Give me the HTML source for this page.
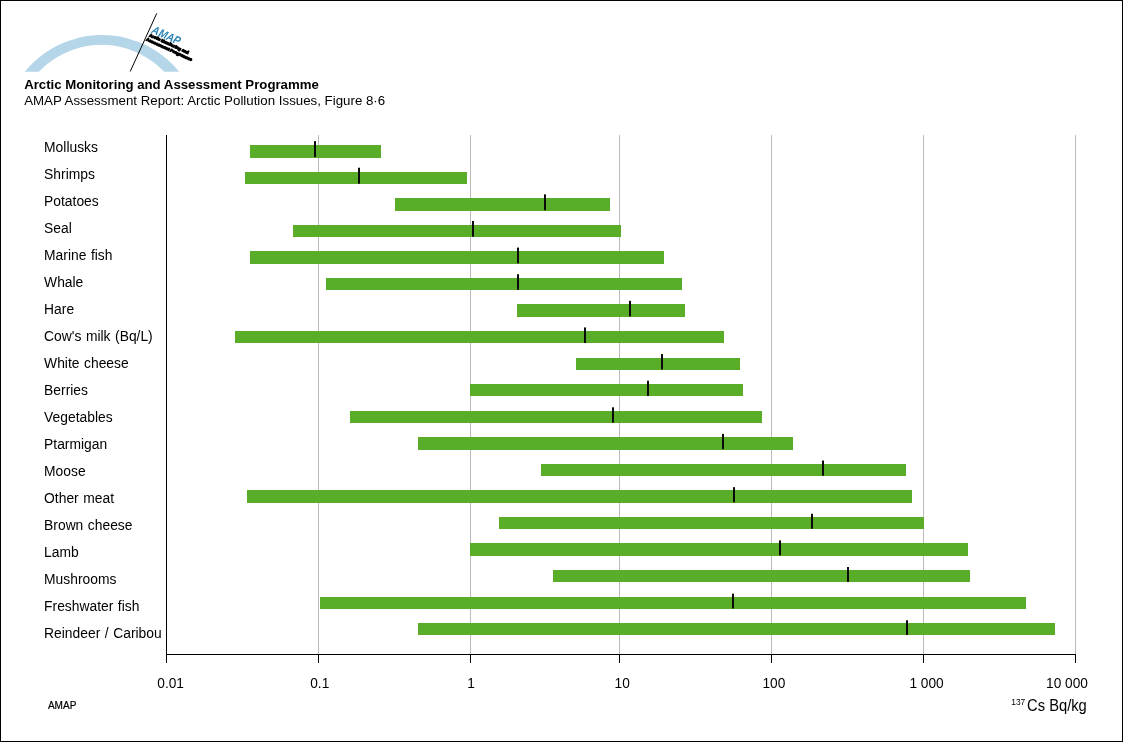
<!DOCTYPE html>
<html lang="en"><head><meta charset="utf-8"><title>AMAP Figure 8-6</title>
<style>
html,body{margin:0;padding:0;background:#fff;}
body{width:1123px;height:742px;overflow:hidden;position:relative;}
svg{display:block;position:absolute;left:0;top:0;}
text{font-family:"Liberation Sans",Arial,Helvetica,sans-serif;fill:#000;}
.lab{font-size:15.5px;}
.bar{fill:#5aad29;}
.med{fill:#0a0a0a;}
.grid{fill:#bbbbbb;}
.ax{fill:#000;}
</style></head><body>
<svg width="1123" height="742" viewBox="0 0 1123 742">
<rect x="0" y="0" width="1123" height="742" fill="#fff"/>
<rect x="0.5" y="0.5" width="1122" height="741" fill="none" stroke="#000" stroke-width="1" shape-rendering="crispEdges"/>
<g id="logo">
<defs><clipPath id="arcclip"><rect x="0" y="0" width="220" height="71.7"/></clipPath></defs>
<path clip-path="url(#arcclip)" fill="#b5d5e9" fill-rule="evenodd" d="M102 35 a99.3 99.3 0 1 0 0.01 0 Z M101.5 44.8 a86.5 86.5 0 1 0 0.01 0 Z"/>
<line x1="156.8" y1="13.3" x2="130.2" y2="71.5" stroke="#000" stroke-width="1"/>
<g transform="translate(150.5,32.6) rotate(24.6)">
<text x="0.3" y="-0.2" style="font-size:11.5px;font-weight:bold;font-style:italic;fill:#2b86b8;" textLength="30.5" lengthAdjust="spacingAndGlyphs">AMAP</text>
<text x="0.2" y="3.8" style="font-size:4px;font-weight:bold;fill:#000;stroke:#000;stroke-width:1.05;" textLength="43" lengthAdjust="spacingAndGlyphs">Arctic Monitoring and</text>
<text x="-1.0" y="8.9" style="font-size:4px;font-weight:bold;fill:#000;stroke:#000;stroke-width:1.05;" textLength="50" lengthAdjust="spacingAndGlyphs">Assessment Programme</text>
</g>
</g>
<text x="24.2" y="88.7" style="font-size:12.1px;font-weight:bold;fill:#000;" textLength="294.6" lengthAdjust="spacingAndGlyphs">Arctic Monitoring and Assessment Programme</text>
<text x="24.2" y="104.5" style="font-size:12.3px;" textLength="361" lengthAdjust="spacingAndGlyphs">AMAP Assessment Report: Arctic Pollution Issues, Figure 8·6</text>
<g shape-rendering="crispEdges">
<rect class="grid" x="318" y="135" width="1" height="519"/>
<rect class="grid" x="470" y="135" width="1" height="519"/>
<rect class="grid" x="619" y="135" width="1" height="519"/>
<rect class="grid" x="771" y="135" width="1" height="519"/>
<rect class="grid" x="923" y="135" width="1" height="519"/>
<rect class="grid" x="1075" y="135" width="1" height="519"/>
<rect class="bar" x="250" y="145" width="131" height="13"/>
<rect class="bar" x="245" y="172" width="222" height="12"/>
<rect class="bar" x="395" y="198" width="215" height="13"/>
<rect class="bar" x="293" y="225" width="328" height="12"/>
<rect class="bar" x="250" y="251" width="414" height="13"/>
<rect class="bar" x="326" y="278" width="356" height="12"/>
<rect class="bar" x="517" y="304" width="168" height="13"/>
<rect class="bar" x="235" y="331" width="489" height="12"/>
<rect class="bar" x="576" y="358" width="164" height="12"/>
<rect class="bar" x="470" y="384" width="273" height="12"/>
<rect class="bar" x="350" y="411" width="412" height="12"/>
<rect class="bar" x="418" y="437" width="375" height="13"/>
<rect class="bar" x="541" y="464" width="365" height="12"/>
<rect class="bar" x="247" y="490" width="665" height="13"/>
<rect class="bar" x="499" y="517" width="425" height="12"/>
<rect class="bar" x="470" y="543" width="498" height="13"/>
<rect class="bar" x="553" y="570" width="417" height="12"/>
<rect class="bar" x="320" y="597" width="706" height="12"/>
<rect class="bar" x="418" y="623" width="637" height="12"/>
<rect class="med" x="314" y="141.10" width="2" height="16.00" shape-rendering="geometricPrecision"/>
<rect class="med" x="358" y="167.72" width="2" height="15.93" shape-rendering="geometricPrecision"/>
<rect class="med" x="544" y="194.34" width="2" height="15.86" shape-rendering="geometricPrecision"/>
<rect class="med" x="472" y="220.96" width="2" height="15.79" shape-rendering="geometricPrecision"/>
<rect class="med" x="517" y="247.58" width="2" height="15.72" shape-rendering="geometricPrecision"/>
<rect class="med" x="517" y="274.20" width="2" height="15.65" shape-rendering="geometricPrecision"/>
<rect class="med" x="629" y="300.82" width="2" height="15.58" shape-rendering="geometricPrecision"/>
<rect class="med" x="584" y="327.44" width="2" height="15.51" shape-rendering="geometricPrecision"/>
<rect class="med" x="661" y="354.06" width="2" height="15.44" shape-rendering="geometricPrecision"/>
<rect class="med" x="647" y="380.68" width="2" height="15.37" shape-rendering="geometricPrecision"/>
<rect class="med" x="612" y="407.30" width="2" height="15.30" shape-rendering="geometricPrecision"/>
<rect class="med" x="722" y="433.92" width="2" height="15.23" shape-rendering="geometricPrecision"/>
<rect class="med" x="822" y="460.54" width="2" height="15.16" shape-rendering="geometricPrecision"/>
<rect class="med" x="733" y="487.16" width="2" height="15.09" shape-rendering="geometricPrecision"/>
<rect class="med" x="811" y="513.78" width="2" height="15.02" shape-rendering="geometricPrecision"/>
<rect class="med" x="779" y="540.40" width="2" height="14.95" shape-rendering="geometricPrecision"/>
<rect class="med" x="847" y="567.02" width="2" height="14.88" shape-rendering="geometricPrecision"/>
<rect class="med" x="732" y="593.64" width="2" height="14.81" shape-rendering="geometricPrecision"/>
<rect class="med" x="906" y="620.26" width="2" height="14.74" shape-rendering="geometricPrecision"/>
<rect class="ax" x="166" y="135" width="1" height="528"/>
<rect class="ax" x="166" y="654" width="910" height="1"/>
<rect class="ax" x="318" y="654" width="1" height="9"/>
<rect class="ax" x="470" y="654" width="1" height="9"/>
<rect class="ax" x="619" y="654" width="1" height="9"/>
<rect class="ax" x="771" y="654" width="1" height="9"/>
<rect class="ax" x="923" y="654" width="1" height="9"/>
<rect class="ax" x="1075" y="654" width="1" height="9"/>
</g>
<text class="lab" style="word-spacing:0.8px" transform="translate(44.1,151.50) scale(0.893,1)">Mollusks</text>
<text class="lab" style="word-spacing:0.8px" transform="translate(44.1,178.55) scale(0.893,1)">Shrimps</text>
<text class="lab" style="word-spacing:0.8px" transform="translate(44.1,205.60) scale(0.893,1)">Potatoes</text>
<text class="lab" style="word-spacing:0.8px" transform="translate(44.1,232.65) scale(0.893,1)">Seal</text>
<text class="lab" style="word-spacing:0.8px" transform="translate(44.1,259.70) scale(0.893,1)">Marine fish</text>
<text class="lab" style="word-spacing:0.8px" transform="translate(44.1,286.75) scale(0.893,1)">Whale</text>
<text class="lab" style="word-spacing:0.8px" transform="translate(44.1,313.80) scale(0.893,1)">Hare</text>
<text class="lab" style="word-spacing:0.8px" transform="translate(44.1,340.85) scale(0.893,1)">Cow's milk (Bq/L)</text>
<text class="lab" style="word-spacing:0.8px" transform="translate(44.1,367.90) scale(0.893,1)">White cheese</text>
<text class="lab" style="word-spacing:0.8px" transform="translate(44.1,394.95) scale(0.893,1)">Berries</text>
<text class="lab" style="word-spacing:0.8px" transform="translate(44.1,422.00) scale(0.893,1)">Vegetables</text>
<text class="lab" style="word-spacing:0.8px" transform="translate(44.1,449.05) scale(0.893,1)">Ptarmigan</text>
<text class="lab" style="word-spacing:0.8px" transform="translate(44.1,476.10) scale(0.893,1)">Moose</text>
<text class="lab" style="word-spacing:0.8px" transform="translate(44.1,503.15) scale(0.893,1)">Other meat</text>
<text class="lab" style="word-spacing:0.8px" transform="translate(44.1,530.20) scale(0.893,1)">Brown cheese</text>
<text class="lab" style="word-spacing:0.8px" transform="translate(44.1,557.25) scale(0.893,1)">Lamb</text>
<text class="lab" style="word-spacing:0.8px" transform="translate(44.1,584.30) scale(0.893,1)">Mushrooms</text>
<text class="lab" style="word-spacing:0.8px" transform="translate(44.1,611.35) scale(0.893,1)">Freshwater fish</text>
<text class="lab" style="word-spacing:0.8px" transform="translate(44.1,638.40) scale(0.893,1)">Reindeer / Caribou</text>
<text class="lab" transform="translate(157.3,687.7) scale(0.886,1)" xml:space="preserve">0.01</text>
<text class="lab" transform="translate(310.2,687.7) scale(0.886,1)" xml:space="preserve">0.1</text>
<text class="lab" transform="translate(467.2,687.7) scale(0.886,1)" xml:space="preserve">1</text>
<text class="lab" transform="translate(614.5,687.7) scale(0.886,1)" xml:space="preserve">10</text>
<text class="lab" transform="translate(762.4,687.7) scale(0.886,1)" xml:space="preserve">100</text>
<text class="lab" transform="translate(909.4,687.7) scale(0.886,1)" xml:space="preserve">1 000</text>
<text class="lab" transform="translate(1046.0,687.7) scale(0.886,1)" xml:space="preserve">10 000</text>
<text transform="translate(1011.3,704.8) scale(0.875,1)" style="font-size:9.6px;">137</text>
<text transform="translate(1027.1,710.6) scale(0.92,1)" style="font-size:16px;">Cs Bq/kg</text>
<text x="47.9" y="709.1" style="font-size:10.4px;stroke:#000;stroke-width:0.2;" textLength="28.5" lengthAdjust="spacingAndGlyphs">AMAP</text>
</svg></body></html>
